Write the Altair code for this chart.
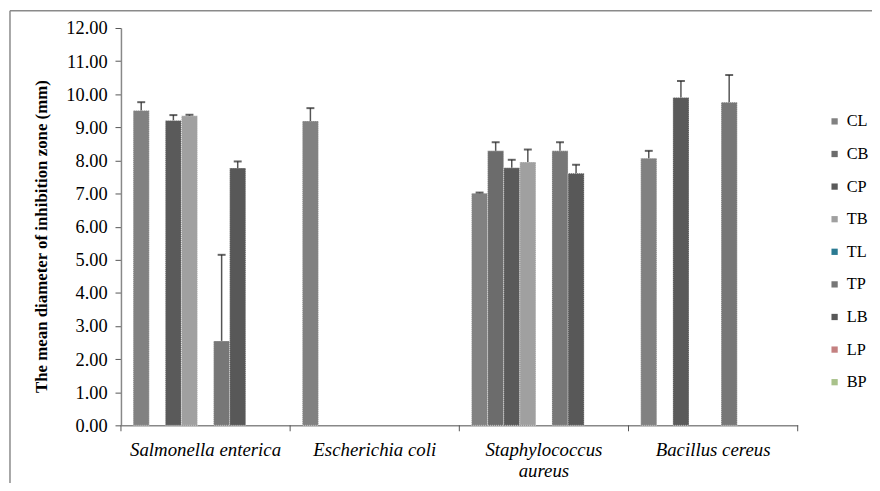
import altair as alt
import pandas as pd

groups = ["Salmonella enterica", "Escherichia coli", "Staphylococcus aureus", "Bacillus cereus"]
series = ["CL", "CB", "CP", "TB", "TL", "TP", "LB", "LP", "BP"]
colors = ["#818181", "#6c6c6c", "#5a5a5a", "#a0a0a0", "#2a7a92", "#777777", "#585858", "#c48080", "#a9c28b"]

# mean values per series, one per group (None = no bar)
means = {
    "CL": [9.51, 9.19, 7.01, 8.07],
    "CB": [None, None, 8.29, None],
    "CP": [9.21, None, 7.78, 9.90],
    "TB": [9.35, None, 7.95, None],
    "TL": [None, None, None, None],
    "TP": [2.55, None, 8.29, 9.76],
    "LB": [7.77, None, 7.61, None],
    "LP": [None, None, None, None],
    "BP": [None, None, None, None],
}
errors = {
    "CL": [0.25, 0.39, 0.02, 0.22],
    "CB": [None, None, 0.26, None],
    "CP": [0.16, None, 0.24, 0.50],
    "TB": [0.03, None, 0.38, None],
    "TL": [None, None, None, None],
    "TP": [2.60, None, 0.26, 0.82],
    "LB": [0.20, None, 0.26, None],
    "LP": [None, None, None, None],
    "BP": [None, None, None, None],
}

rows = []
for s in series:
    for gi, g in enumerate(groups):
        m = means[s][gi]
        if m is None:
            continue
        e = errors[s][gi] or 0
        rows.append({"group": g, "series": s, "mean": m, "top": m + e})
df = pd.DataFrame(rows)

W, H = 683, 401
FONT = "Liberation Serif"

x_axis = alt.Axis(title=None, ticks=False, domain=True, domainColor="#888888",
                  labelAngle=0, labelFont=FONT, labelFontStyle="italic", labelFontSize=19,
                  labelColor="black", labelPadding=15, labelLineHeight=22,
                  labelExpr="datum.label == 'Staphylococcus aureus' ? ['Staphylococcus', 'aureus'] : datum.label")
x_scale = alt.Scale(domain=groups, paddingInner=0, paddingOuter=0)
xo = alt.XOffset("series:N", sort=series,
                 scale=alt.Scale(domain=series, paddingInner=0, paddingOuter=0.76))

y_scale = alt.Scale(domain=[0, 12], nice=False)
y_axis = alt.Axis(title="The mean diameter  of inhibition zone (mm)", values=list(range(13)),
                  tickCount=13, format=".2f", grid=False, domainColor="#888888", tickColor="#555555",
                  tickSize=6, labelFont=FONT, labelFontSize=18.5, labelColor="black",
                  labelOverlap=False, labelPadding=8,
                  titleFont=FONT, titleFontSize=17, titleFontWeight="bold",
                  titleColor="black", titleX=-80, titleY=210, titleAngle=-90,
                  titleBaseline="middle", titleAlign="center")

color = alt.Color("series:N", scale=alt.Scale(domain=series, range=colors),
                  legend=alt.Legend(title=None, orient="none", legendX=712, legendY=86,
                                    symbolType="square", symbolSize=40, symbolStrokeWidth=0,
                                    labelFont=FONT, labelFontSize=16.5, labelColor="black",
                                    rowPadding=15.9, labelOffset=4, padding=0))

base = alt.Chart(df)
bars = base.mark_bar(stroke="white", strokeWidth=0.6, strokeDash=[1, 1]).encode(
    x=alt.X("group:N", sort=groups, scale=x_scale, axis=x_axis), xOffset=xo,
    y=alt.Y("mean:Q", scale=y_scale, axis=y_axis), color=color)
err = base.mark_rule(color="#555555", strokeWidth=1.5).encode(
    x=alt.X("group:N", sort=groups, scale=x_scale, axis=x_axis), xOffset=xo,
    y=alt.Y("mean:Q", scale=y_scale, axis=y_axis), y2="top:Q")
caps = base.mark_tick(color="#222222", thickness=2, size=8, orient="horizontal").encode(
    x=alt.X("group:N", sort=groups, scale=x_scale, axis=x_axis), xOffset=xo,
    y=alt.Y("top:Q", scale=y_scale, axis=y_axis))

tick_df = pd.DataFrame({"group": groups})
xticks = alt.Chart(tick_df).mark_rule(color="#555555").encode(
    x=alt.X("group:N", sort=groups, scale=x_scale, axis=x_axis, bandPosition=0),
    y=alt.value(H), y2=alt.value(H + 6))
last_tick = alt.Chart(tick_df[tick_df.group == groups[-1]]).mark_rule(color="#555555").encode(
    x=alt.X("group:N", sort=groups, scale=x_scale, axis=x_axis, bandPosition=1),
    y=alt.value(H), y2=alt.value(H + 6))

frame = pd.DataFrame({"k": [0]})
top_line = alt.Chart(frame).mark_rule(color="#8a8a8a", strokeWidth=1.5).encode(
    x=alt.value(-112), x2=alt.value(W + 80), y=alt.value(-17.5))
left_line = alt.Chart(frame).mark_rule(color="#8a8a8a", strokeWidth=1.5).encode(
    x=alt.value(-112), y=alt.value(-17.5), y2=alt.value(H + 60))

chart = alt.layer(bars, err, caps, xticks, last_tick, top_line, left_line).properties(
    width=W, height=H,
    autosize=alt.AutoSizeParams(type="none"),
    padding={"left": 114, "top": 18, "right": 75, "bottom": 56},
).configure_view(stroke=None).configure_axis(domainWidth=1.5)

chart.save("out.html", embed_options={"renderer": "svg", "actions": False})
